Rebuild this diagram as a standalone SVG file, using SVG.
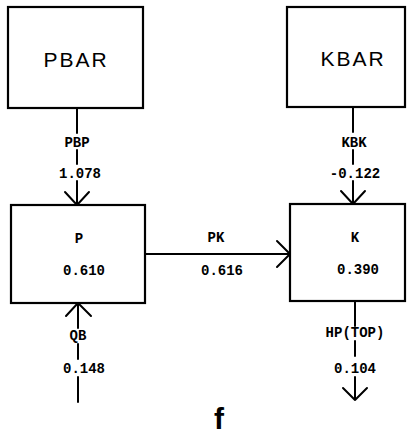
<svg xmlns="http://www.w3.org/2000/svg" width="414" height="446" viewBox="0 0 414 446">
<style>
.box{fill:none;stroke:#000;stroke-width:2.2}
.ln{fill:none;stroke:#000;stroke-width:2;stroke-linecap:round;stroke-linejoin:round}
.big{font-family:"Liberation Sans",Arial,sans-serif;font-size:21px;letter-spacing:2px;text-anchor:middle;fill:#000}
.sm{font-family:"Liberation Mono","DejaVu Sans Mono",monospace;font-weight:bold;font-size:14px;text-anchor:middle;fill:#000}
.f{font-family:"Liberation Sans",Arial,sans-serif;font-weight:bold;font-size:30px;text-anchor:middle;fill:#000}
</style>
<rect width="414" height="446" fill="#fff"/>
<g id="PBAR"><rect class="box" x="8" y="7" width="135" height="101"/><text class="big" x="76" y="67">PBAR</text></g>
<g id="KBAR"><rect class="box" x="287" y="7" width="118" height="100"/><text class="big" x="353" y="66">KBAR</text></g>
<g id="P"><rect class="box" x="11" y="205" width="134" height="98"/><text class="sm" x="79" y="243">P</text><text class="sm" x="84" y="275">0.610</text></g>
<g id="K"><rect class="box" x="290" y="204" width="115" height="97"/><text class="sm" x="355" y="242">K</text><text class="sm" x="358" y="274">0.390</text></g>
<g id="connectors">
<path class="ln" d="M77 108V133M77 150V164M77 181V205M65 192L77 205L89 192"/>
<text class="sm" x="77" y="147">PBP</text><text class="sm" x="80" y="178">1.078</text>
<path class="ln" d="M353 107V132M353 150V164M353 181V204M341 191L353 204L365 191"/>
<text class="sm" x="354" y="147">KBK</text><text class="sm" x="355" y="178">-0.122</text>
<path class="ln" d="M145 254H290M277 241L290 254L277 267"/>
<text class="sm" x="216" y="242">PK</text><text class="sm" x="222" y="275">0.616</text>
<path class="ln" d="M78 303V328M78 344V359M78 377V402M66 316L78 303L91 316"/>
<text class="sm" x="78" y="340">QB</text><text class="sm" x="84" y="373">0.148</text>
<path class="ln" d="M355 301V326M355 341V356M355 377V400M343 388L355 400L367 388"/>
<text class="sm" x="355" y="337">HP(TOP)</text><text class="sm" x="355" y="373">0.104</text>
</g>
<text class="f" x="219" y="429">f</text>
</svg>
